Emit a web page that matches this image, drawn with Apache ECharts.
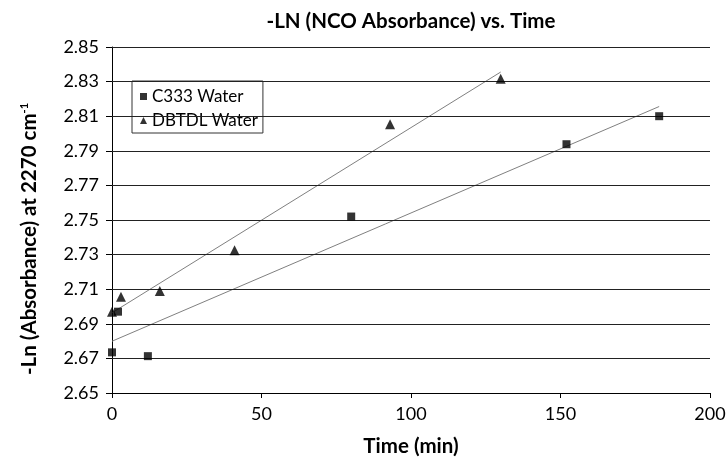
<!DOCTYPE html>
<html><head><meta charset="utf-8">
<script src="https://cdn.jsdelivr.net/npm/echarts@6/dist/echarts.min.js"></script>
<style>html,body{margin:0;padding:0;background:#fff}#c{width:727px;height:457px}</style>
</head><body><div id="c"></div>
<script>
const titleText = '-LN (NCO Absorbance) vs. Time';
const xName = 'Time (min)';
const seriesNames = ['C333 Water', 'DBTDL Water'];
const c333Time = [0, 2, 12, 80, 152, 183];
const c333Value = [2.6735, 2.697, 2.6713, 2.752, 2.7938, 2.810];
const dbtdlTime = [0, 3, 16, 41, 93, 130];
const dbtdlValue = [2.697, 2.7056, 2.709, 2.7325, 2.8054, 2.8316];
const yTicks = [2.65, 2.67, 2.69, 2.71, 2.73, 2.75, 2.77, 2.79, 2.81, 2.83, 2.85];
const xTicks = [0, 50, 100, 150, 200];

const FONT = 'Lato';

function zip(xs, ys) { return xs.map((x, i) => [x, ys[i]]); }
function trend(xs, ys) {
  const n = xs.length;
  const mx = xs.reduce((a, b) => a + b, 0) / n;
  const my = ys.reduce((a, b) => a + b, 0) / n;
  let sxx = 0, sxy = 0;
  for (let i = 0; i < n; i++) { sxx += (xs[i] - mx) ** 2; sxy += (xs[i] - mx) * (ys[i] - my); }
  const b = sxy / sxx, a = my - b * mx;
  const x0 = Math.min(...xs), x1 = Math.max(...xs);
  return [[x0, a + b * x0], [x1, a + b * x1]];
}

const chart = echarts.init(document.getElementById('c'), null, { renderer: 'canvas' });
chart.setOption({
  animation: false,
  backgroundColor: '#fff',
  textStyle: { fontFamily: FONT },
  title: {
    text: titleText, left: 411, top: 11, padding: 0, textAlign: 'center',
    textStyle: { fontFamily: FONT, fontSize: 20.5, fontWeight: 'bold', color: '#000' }
  },
  grid: { left: 112, right: 17, top: 47, bottom: 64, containLabel: false, outerBoundsMode: 'none' },
  legend: {
    data: seriesNames, orient: 'vertical', left: 132, top: 81,
    padding: [7, 5, 4, 8], itemGap: 7, itemWidth: 7, itemHeight: 7,
    borderColor: '#333', borderWidth: 1, backgroundColor: '#fff',
    textStyle: { fontFamily: FONT, fontSize: 17, color: '#000' },
    selectedMode: false
  },
  xAxis: {
    type: 'value', min: xTicks[0], max: xTicks[xTicks.length - 1], interval: 50,
    name: xName, nameLocation: 'middle', nameGap: 43,
    nameTextStyle: { fontFamily: FONT, fontSize: 20.5, fontWeight: 'bold', color: '#000' },
    axisLine: { show: true, onZero: false, lineStyle: { color: '#000', width: 1 } },
    axisTick: { show: true, length: 5, lineStyle: { color: '#000' } },
    axisLabel: { fontFamily: FONT, fontSize: 18, color: '#000', margin: 12 },
    splitLine: { show: false }
  },
  yAxis: {
    type: 'value', min: yTicks[0], max: yTicks[yTicks.length - 1],
    name: '-Ln (Absorbance) at 2270 cm{sup|-1}', nameLocation: 'middle', nameGap: 72,
    nameTextStyle: { fontFamily: FONT, fontSize: 20.5, fontWeight: 'bold', color: '#000',
      padding: [0, 38, 0, 0],
      rich: { sup: { fontFamily: FONT, fontSize: 11, fontWeight: 'bold', color: '#000', verticalAlign: 'top', padding: [0, 0, 10, 0] } } },
    axisLine: { show: true, onZero: false, lineStyle: { color: '#000', width: 1 } },
    axisTick: { show: true, length: 6, lineStyle: { color: '#000' }, customValues: yTicks },
    axisLabel: { fontFamily: FONT, fontSize: 18, color: '#000', margin: 13, customValues: yTicks,
      formatter: v => v.toFixed(2) },
    splitLine: { show: false }
  },
  series: [
    {
      name: 'grid', type: 'line', data: [], silent: true,
      markLine: {
        silent: true, symbol: ['none', 'none'], animation: false,
        label: { show: false },
        lineStyle: { type: 'solid', color: '#222', width: 1 },
        data: yTicks.slice(1).map(v => ({ yAxis: v }))
      }
    },
    {
      name: seriesNames[0] + ' trend', type: 'line', data: trend(c333Time, c333Value),
      showSymbol: false, silent: true, lineStyle: { color: '#808080', width: 1 }, z: 3
    },
    {
      name: seriesNames[1] + ' trend', type: 'line', data: trend(dbtdlTime, dbtdlValue),
      showSymbol: false, silent: true, lineStyle: { color: '#808080', width: 1 }, z: 3
    },
    {
      name: seriesNames[0], type: 'scatter', data: zip(c333Time, c333Value),
      symbol: 'rect', symbolSize: 8, itemStyle: { color: '#000' }, z: 5
    },
    {
      name: seriesNames[1], type: 'scatter', data: zip(dbtdlTime, dbtdlValue),
      symbol: 'triangle', symbolSize: 10, itemStyle: { color: '#000' }, z: 5
    }
  ]
});
</script>
</body></html>
